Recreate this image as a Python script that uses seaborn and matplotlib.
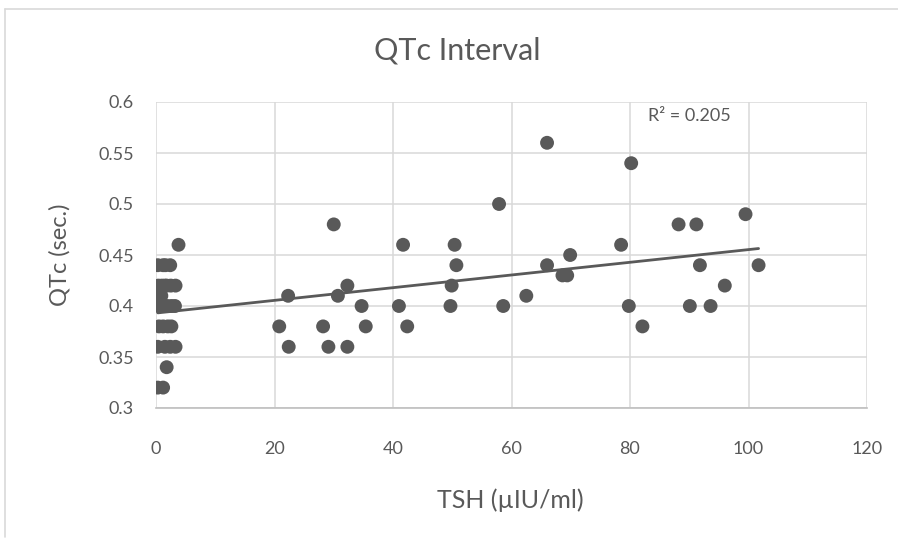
import matplotlib
matplotlib.use("Agg")
import matplotlib.pyplot as plt
import seaborn as sns
import pandas as pd
from matplotlib.lines import Line2D

# TSH (x) and QTc (y) values
tsh = [0.3, 1.2, 1.6, 2.4,
       0.4, 1.0, 1.5, 1.8, 2.5, 3.3,
       0.3, 0.9,
       0.4, 0.6, 1.1, 1.9, 2.6, 3.2,
       0.5, 1.2, 2.0, 2.6,
       0.3, 1.5, 2.4, 3.3,
       1.8, 0.3, 1.2, 3.8,
       20.8, 22.3, 22.4, 28.2, 29.1, 30.0, 30.7, 32.3, 32.3, 34.7, 35.4,
       41.0, 41.7, 42.4, 49.7, 49.9, 50.4, 50.7,
       57.9, 58.6, 62.5, 66.0, 66.0, 68.6, 69.4, 69.9,
       78.5, 79.8, 80.2, 82.1,
       88.2, 90.1, 91.2, 91.8, 93.6, 96.0, 99.5, 101.7]
qtc = [0.44, 0.44, 0.44, 0.44,
       0.42, 0.42, 0.42, 0.42, 0.42, 0.42,
       0.41, 0.41,
       0.40, 0.40, 0.40, 0.40, 0.40, 0.40,
       0.38, 0.38, 0.38, 0.38,
       0.36, 0.36, 0.36, 0.36,
       0.34, 0.32, 0.32, 0.46,
       0.38, 0.41, 0.36, 0.38, 0.36, 0.48, 0.41, 0.42, 0.36, 0.40, 0.38,
       0.40, 0.46, 0.38, 0.40, 0.42, 0.46, 0.44,
       0.50, 0.40, 0.41, 0.56, 0.44, 0.43, 0.43, 0.45,
       0.46, 0.40, 0.54, 0.38,
       0.48, 0.40, 0.48, 0.44, 0.40, 0.42, 0.49, 0.44]
x_ticks = [0, 20, 40, 60, 80, 100, 120]
y_ticks = [0.3, 0.35, 0.4, 0.45, 0.5, 0.55, 0.6]
y_tick_labels = ["0.3", "0.35", "0.4", "0.45", "0.5", "0.55", "0.6"]
r2_label = "R\u00b2 = 0.205"

df = pd.DataFrame({"TSH": tsh, "QTc": qtc})

sns.set_style("white")
plt.rcParams["font.family"] = ["Lato", "DejaVu Sans"]
grey = "#595959"

fig = plt.figure(figsize=(8.98, 5.42), dpi=100)
ax = fig.add_axes([156 / 898, 1 - 408 / 542, 711 / 898, 306 / 542])

sns.regplot(data=df, x="TSH", y="QTc", ax=ax, ci=None,
            scatter_kws={"s": 100, "color": grey, "edgecolor": "none", "alpha": 1, "zorder": 3},
            line_kws={"color": grey, "linewidth": 2.0, "zorder": 4})

ax.set_xlim(0, 120)
ax.set_ylim(0.3, 0.6)
ax.set_xticks(x_ticks)
ax.set_yticks(y_ticks)
ax.set_yticklabels(y_tick_labels)
ax.grid(True, color="#d9d9d9", linewidth=1.1, zorder=0)
ax.set_axisbelow(True)
for side in ["top", "right", "left"]:
    ax.spines[side].set_visible(False)
ax.spines["bottom"].set_color("#bfbfbf")
ax.spines["bottom"].set_linewidth(1.2)
ax.tick_params(axis="both", length=0, labelsize=13, labelcolor=grey)
ax.tick_params(axis="x", pad=24)
ax.tick_params(axis="y", pad=16)
ax.set_xlabel("")
ax.set_ylabel("")

ax.text(83, 0.586, r2_label, fontsize=13, color=grey, va="center", ha="left")

fig.text(457 / 898, 1 - 50 / 542, "QTc Interval", fontsize=22, color=grey, ha="center", va="center")
fig.text(510 / 898, 1 - 500 / 542, "TSH (\u00b5IU/ml)", fontsize=18, color=grey, ha="center", va="center")
fig.text(60 / 898, 1 - 255 / 542, "QTc (sec.)", fontsize=17, color=grey, ha="center", va="center", rotation=90)

# chart frame (left and top edges)
fig.add_artist(Line2D([5 / 898, 5 / 898], [1 - 537 / 542, 1 - 9 / 542], color="#d9d9d9", linewidth=1.2,
                      transform=fig.transFigure))
fig.add_artist(Line2D([5 / 898, 1], [1 - 9 / 542, 1 - 9 / 542], color="#d9d9d9", linewidth=1.2,
                      transform=fig.transFigure))

fig.savefig("out.png", dpi=100)
